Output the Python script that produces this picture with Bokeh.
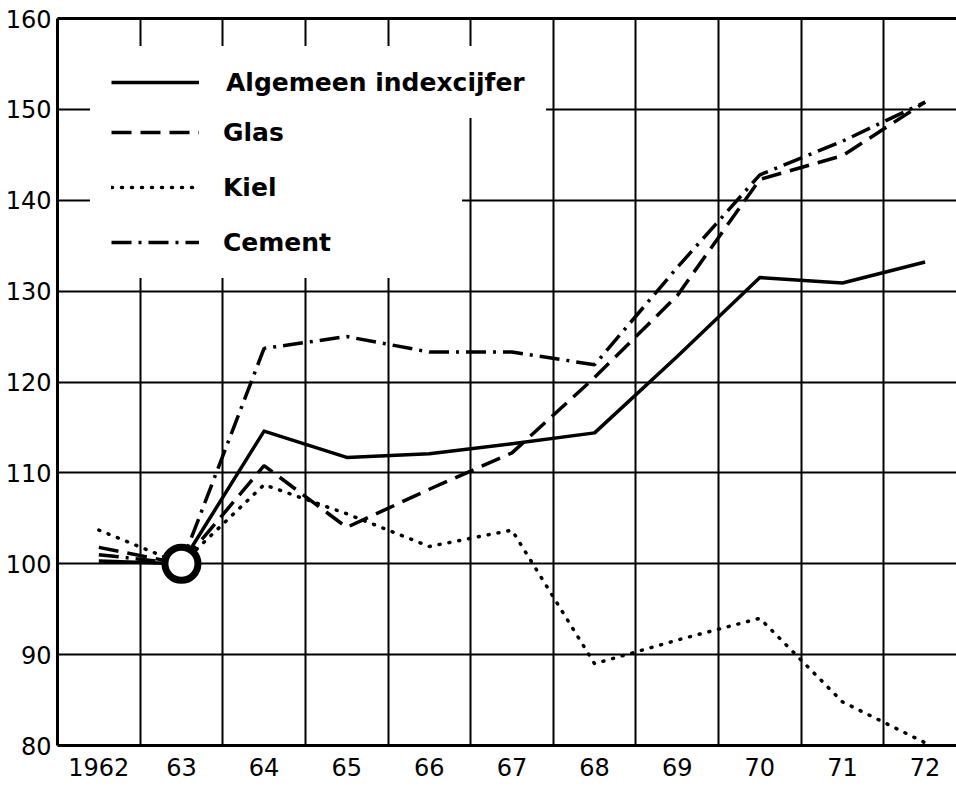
from bokeh.plotting import figure
from bokeh.models import Range1d, FixedTicker, LinearAxis, Legend, LegendItem
from bokeh.embed import file_html
from bokeh.resources import INLINE

# ---- data (index, 1963 = 100) ----
years = [1962, 1963, 1964, 1965, 1966, 1967, 1968, 1969, 1970, 1971, 1972]
year_labels = ["1962", "63", "64", "65", "66", "67", "68", "69", "70", "71", "72"]
algemeen = [100.3, 100.0, 114.6, 111.7, 112.1, 113.2, 114.4, 122.8, 131.5, 130.9, 133.2]
glas = [101.8, 100.0, 110.8, 104.0, 108.2, 112.2, 120.5, 129.5, 142.3, 144.9, 150.8]
kiel = [103.7, 100.0, 108.7, 105.5, 101.9, 103.7, 89.0, 91.6, 94.0, 84.8, 80.3]
cement = [101.0, 100.0, 123.7, 125.0, 123.3, 123.3, 121.9, 132.6, 142.8, 146.5, 150.8]
series_names = ["Algemeen indexcijfer", "Glas", "Kiel", "Cement"]
y_ticks = [80, 90, 100, 110, 120, 130, 140, 150, 160]
base_year = [1963]
base_value = [100]

TICK_FONT = "DejaVu Sans"

p = figure(width=956, height=787, output_backend="svg", toolbar_location=None,
           x_range=Range1d(1961.5, 1972.38), y_range=Range1d(80, 160),
           min_border_left=57, min_border_right=0, min_border_top=18, min_border_bottom=42)
p.outline_line_color = None
p.background_fill_color = "white"
p.border_fill_color = "white"

# axes
for ax in (p.xaxis, p.yaxis):
    ax.axis_line_width = 3
    ax.axis_line_color = "black"
    ax.major_tick_line_color = None
    ax.minor_tick_line_color = None
    ax.major_tick_out = 0
    ax.major_tick_in = 0
    ax.major_label_text_font = TICK_FONT
    ax.major_label_text_font_size = "24px"
    ax.major_label_text_color = "black"

p.xaxis.ticker = FixedTicker(ticks=years)
p.xaxis.major_label_overrides = dict(zip(years, year_labels))
p.xaxis.major_label_standoff = 12
p.yaxis.ticker = FixedTicker(ticks=y_ticks)
p.yaxis.major_label_standoff = 6

top_axis = LinearAxis(ticker=FixedTicker(ticks=[]), axis_line_width=3, axis_line_color="black",
                      major_tick_line_color=None, minor_tick_line_color=None,
                      major_tick_out=0, major_tick_in=0, major_label_standoff=0,
                      major_label_text_font_size="0px")
p.add_layout(top_axis, "above")

# grid: vertical lines between years, horizontal at every 10
p.xgrid.ticker = FixedTicker(ticks=[y + 0.5 for y in years[:-1]])
p.ygrid.ticker = FixedTicker(ticks=y_ticks[1:-1])
for g in (p.xgrid, p.ygrid):
    g.grid_line_color = "black"
    g.grid_line_width = 2
    g.grid_line_alpha = 1

# series
r1 = p.line(years, algemeen, line_color="black", line_width=3.5, line_join="round")
r2 = p.line(years, glas, line_color="black", line_width=3.5, line_dash="20 9")
r3 = p.line(years, kiel, line_color="black", line_width=3.5, line_dash="1 9", line_cap="round")
r4 = p.line(years, cement, line_color="black", line_width=3.5, line_dash="20 7 3 7")
p.scatter(base_year, base_value, marker="circle", size=33, line_width=7,
          line_color="black", fill_color="white")

common = dict(background_fill_color="white", background_fill_alpha=1.0,
              border_line_color="white", border_line_width=1, margin=0, padding=20,
              glyph_width=88, glyph_height=30, label_height=30,
              label_text_font="DejaVu Sans", label_text_font_style="bold",
              label_text_font_size="25px", label_text_color="black")

leg_b = Legend(items=[LegendItem(label=series_names[1], renderers=[r2]),
                      LegendItem(label=series_names[2], renderers=[r3]),
                      LegendItem(label=series_names[3], renderers=[r4])],
               location=(33, 467), spacing=25, label_standoff=24, label_width=218, **common)
leg_a = Legend(items=[LegendItem(label=series_names[0], renderers=[r1])],
               location=(33, 627), spacing=0, label_standoff=27, **common)
p.add_layout(leg_b, "center")
p.add_layout(leg_a, "center")

open("out.html", "w").write(file_html(p, INLINE))
